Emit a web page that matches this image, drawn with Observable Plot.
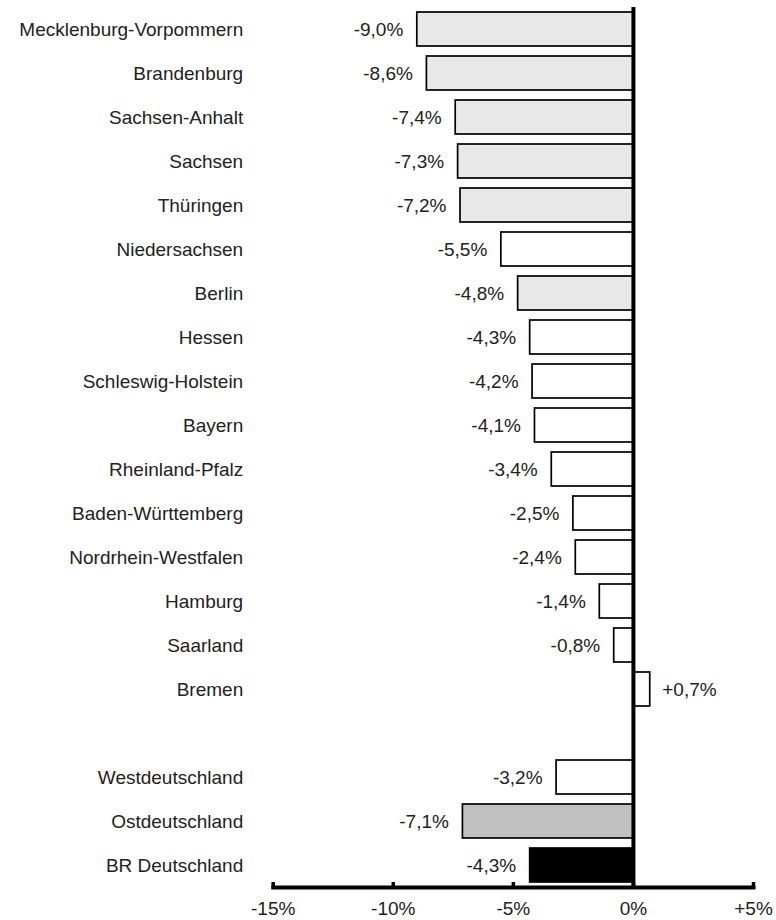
<!DOCTYPE html>
<html><head><meta charset="utf-8">
<script src="https://cdn.jsdelivr.net/npm/d3@7"></script>
<script src="https://cdn.jsdelivr.net/npm/@observablehq/plot@0.6"></script>
<style>body{margin:0;background:#fff}</style>
</head><body><div id="chart"></div>
<script>
const regions = ["Mecklenburg-Vorpommern","Brandenburg","Sachsen-Anhalt","Sachsen","Thüringen","Niedersachsen","Berlin","Hessen","Schleswig-Holstein","Bayern","Rheinland-Pfalz","Baden-Württemberg","Nordrhein-Westfalen","Hamburg","Saarland","Bremen","Westdeutschland","Ostdeutschland","BR Deutschland"];
const values = [-9.0,-8.6,-7.4,-7.3,-7.2,-5.5,-4.8,-4.3,-4.2,-4.1,-3.4,-2.5,-2.4,-1.4,-0.8,0.7,-3.2,-7.1,-4.3];
const groups = ["ost","ost","ost","ost","ost","west","ost","west","west","west","west","west","west","west","west","west","sumWest","sumOst","sumDE"];
const xTicks = [-15,-10,-5,0,5];
const spacer = " ";

const fillOf = {ost:"#e8e8e8", west:"#ffffff", sumWest:"#ffffff", sumOst:"#c0c0c0", sumDE:"#000000"};
const data = regions.map((r,i)=>({region:r, value:values[i], group:groups[i]}));
const domain = [...regions.slice(0,16), spacer, ...regions.slice(16)];
const fmtVal = v => (v>0?"+":"") + v.toFixed(1).replace(".", ",") + "%";
const fmtTick = v => (v>0?"+":"") + v + "%";
const font = "'Liberation Sans', Arial, sans-serif";
const fs = 19;

const chart = Plot.plot({
  width: 776, height: 920,
  marginLeft: 272.7, marginRight: 23, marginTop: 7, marginBottom: 33,
  style: {fontFamily: font, fontSize: fs + "px", color: "#222", background: "#fff"},
  x: {domain: [-15,5], label: null},
  y: {domain, paddingInner: 0.227, paddingOuter: 0.1135, label: null},
  color: {type: "identity"},
  marks: [
    Plot.barX(data, {x: "value", y: "region", fill: d => fillOf[d.group], stroke: "#000", strokeWidth: 1.7}),
    Plot.text(data.filter(d => d.value < 0), {x: "value", y: "region", text: d => fmtVal(d.value),
      textAnchor: "end", dx: -14, fill: "#222", fontSize: fs}),
    Plot.text(data.filter(d => d.value > 0), {x: "value", y: "region", text: d => fmtVal(d.value),
      textAnchor: "start", dx: 12, fill: "#222", fontSize: fs}),
    Plot.ruleX([0], {stroke: "#000", strokeWidth: 4}),
    Plot.frame({anchor: "bottom", stroke: "#000", strokeWidth: 4}),
    Plot.tickX(xTicks, {x: d => d, insetTop: 875, stroke: "#000", strokeWidth: 3.5}),
    Plot.axisX({ticks: xTicks, tickSize: 0, tickPadding: 14, tickFormat: fmtTick, fontSize: fs, fill: "#222", label: null}),
    Plot.axisY({tickSize: 0, tickPadding: 30, fontSize: fs, fill: "#222", tickFormat: d => d, label: null})
  ]
});
document.getElementById("chart").appendChild(chart);
</script>
</body></html>
